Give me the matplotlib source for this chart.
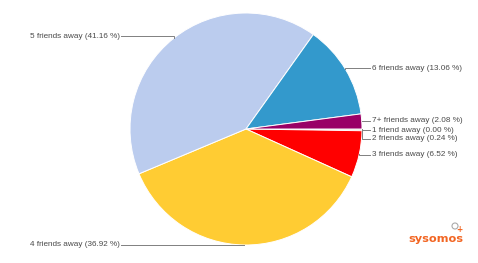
import numpy as np
import matplotlib
matplotlib.use("Agg")
import matplotlib.pyplot as plt
from matplotlib.patches import Circle

categories = ["1 friend away", "2 friends away", "3 friends away", "4 friends away",
              "5 friends away", "6 friends away", "7+ friends away"]
values = [0.00, 0.24, 6.52, 36.92, 41.16, 13.06, 2.08]
colors = ["#e0e0c0", "#d6e4bc", "#ff0000", "#ffcc33", "#bbccee", "#3399cc", "#990066"]

W, H = 478, 263
fig = plt.figure(figsize=(W / 100, H / 100), dpi=100)
ax = fig.add_axes([0, 0, 1, 1])

cx, cy, R = 246, H - 129, 116
wedges, _ = ax.pie(values, colors=colors, startangle=0, counterclock=False,
                   center=(cx, cy), radius=R, frame=True,
                   wedgeprops=dict(edgecolor="white", linewidth=0.7))
ax.set_xlim(0, W)
ax.set_ylim(0, H)
ax.set_aspect("equal")
ax.axis("off")

label_y = {"1 friend away": 130, "2 friends away": 139, "3 friends away": 155,
           "4 friends away": 245, "5 friends away": 36, "6 friends away": 68,
           "7+ friends away": 121}
left_side = {"4 friends away", "5 friends away"}
line_c = "#808080"
text_c = "#4a4a4a"
fs = 5.85
for w, cat, v in zip(wedges, categories, values):
    mid = np.deg2rad((w.theta1 + w.theta2) / 2)
    ax_x = cx + R * np.cos(mid)
    ax_y = cy + R * np.sin(mid)
    ly = H - label_y[cat]
    txt = f"{cat} ({v:.2f} %)"
    if cat not in left_side:
        lx = 370
        ax.plot([ax_x, ax_x, lx], [ax_y, ly, ly], color=line_c, lw=0.7,
                solid_joinstyle="miter")
        ax.text(lx + 2, ly, txt, ha="left", va="center", fontsize=fs,
                color=text_c, family="Liberation Sans")
    else:
        lx = 121
        ax.plot([ax_x, ax_x, lx], [ax_y, ly, ly], color=line_c, lw=0.7,
                solid_joinstyle="miter")
        ax.text(lx - 1, ly, txt, ha="right", va="center", fontsize=fs,
                color=text_c, family="Liberation Sans")

# logo
ax.text(436, H - 239, "sysomos", ha="center", va="center", fontsize=8.2,
        fontweight="bold", color="#f26522", family="DejaVu Sans")
ax.add_patch(Circle((455, H - 226), 3.0, facecolor="white", edgecolor="#aaaaaa", lw=0.8))
ax.text(459.5, H - 229, "+", ha="center", va="center", fontsize=5.5, fontweight="bold",
        color="#f26522")

fig.savefig("out.png", dpi=100)
